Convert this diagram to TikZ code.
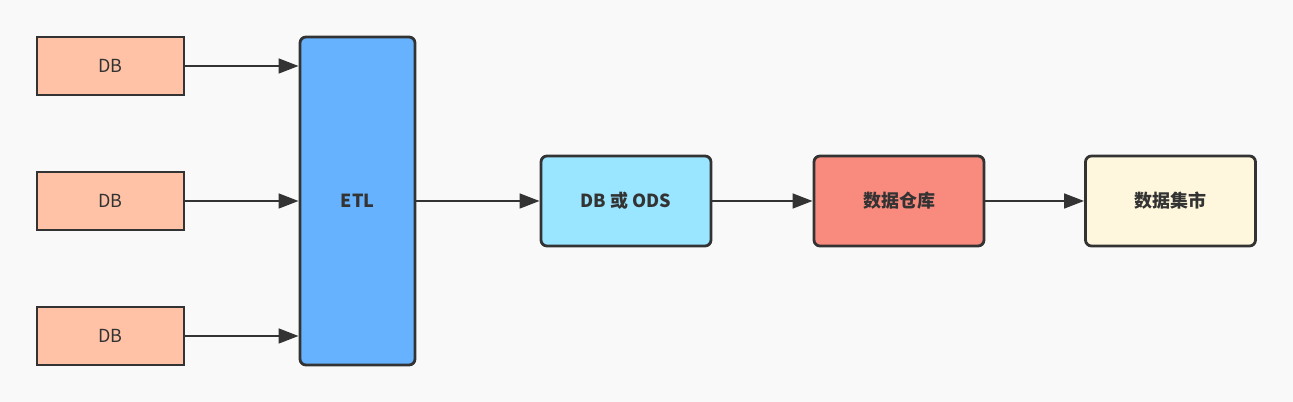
\documentclass[tikz,border=0pt]{standalone}
\usepackage{fontspec}
\setmainfont{Noto Sans CJK SC}
\usetikzlibrary{arrows.meta}
\definecolor{bgcol}{HTML}{F9F9F9}
\definecolor{edgecol}{HTML}{333333}
\definecolor{srccol}{HTML}{FFC2A6}
\definecolor{etlcol}{HTML}{66B2FF}
\definecolor{odscol}{HTML}{9AE5FF}
\definecolor{dwcol}{HTML}{F88A7E}
\definecolor{martcol}{HTML}{FFF7DD}
\begin{document}
\begin{tikzpicture}[x=0.75pt, y=-0.75pt,
    box/.style={draw=edgecol, line width=2.1pt, text=edgecol,
      font=\fontsize{13.5}{15}\selectfont, inner sep=0pt},
    srcbox/.style={box, fill=srccol, minimum width=110.25pt, minimum height=43.5pt},
    stagebox/.style={box, rounded corners=4.5pt, minimum width=127.5pt,
      minimum height=67.5pt, font=\fontsize{13.5}{15}\selectfont\bfseries},
    flow/.style={draw=edgecol, line width=1.9pt,
      -{Triangle[length=15pt, width=11pt]}}]
    \fill[bgcol] (0,0) rectangle (1293,402);
    \useasboundingbox (0,0) rectangle (1293,402);

    \node[srcbox] (db1) at (110.5,66) {DB};
    \node[srcbox] (db2) at (110.5,201) {DB};
    \node[srcbox] (db3) at (110.5,336) {DB};
    \node[stagebox, fill=etlcol, minimum width=86.25pt, minimum height=246pt]
      (etl) at (357.5,201) {ETL};
    \node[stagebox, fill=odscol] (ods) at (626,201) {DB 或 ODS};
    \node[stagebox, fill=dwcol] (dw) at (899,201) {数据仓库};
    \node[stagebox, fill=martcol] (mart) at (1170.5,201) {数据集市};

    \draw[flow] (db1) -- (db1 -| etl.west);
    \draw[flow] (db2) -- (db2 -| etl.west);
    \draw[flow] (db3) -- (db3 -| etl.west);
    \draw[flow] (etl) -- (ods);
    \draw[flow] (ods) -- (dw);
    \draw[flow] (dw) -- (mart);
\end{tikzpicture}
\end{document}
